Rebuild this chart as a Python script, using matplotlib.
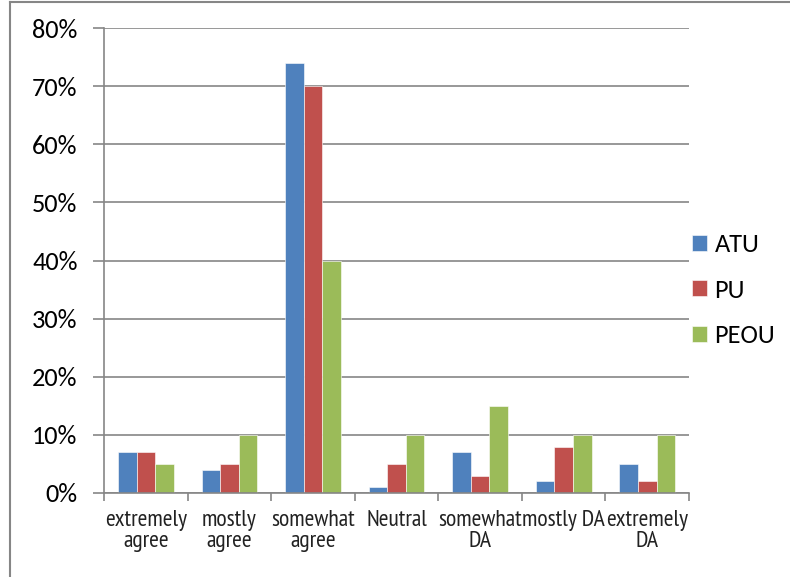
import numpy as np
import matplotlib.pyplot as plt
from matplotlib.lines import Line2D
from matplotlib.ticker import PercentFormatter

# data (percent)
categories = ['extremely\nagree', 'mostly\nagree', 'somewhat\nagree', 'Neutral',
              'somewhat\nDA', 'mostly DA', 'extremely\nDA']
atu = [7, 4, 74, 1, 7, 2, 5]
pu = [7, 5, 70, 5, 3, 8, 2]
peou = [5, 10, 40, 10, 15, 10, 10]
series = ['ATU', 'PU', 'PEOU']
colors = ['#4F81BD', '#C0504D', '#9BBB59']

grey = '#868686'
narrow = ['PT Sans Narrow', 'Archivo Narrow', 'DejaVu Sans']
calibri = ['Carlito', 'Lato', 'DejaVu Sans']

fig = plt.figure(figsize=(7.9, 5.77), dpi=100)
ax = fig.add_axes([104 / 790, 1 - 493 / 577, (689 - 104) / 790, (493 - 28) / 577])

x = np.arange(len(categories))
w = 1 / 4.5  # excel gap width 150%
for i, (vals, c, name) in enumerate(zip([atu, pu, peou], colors, series)):
    ax.bar(x + (i - 1) * w, vals, width=w, color=c, edgecolor='#ffffff',
           linewidth=0.4, label=name, zorder=3)

ax.set_xlim(-0.5, len(categories) - 0.5)
ax.set_ylim(0, 80)
ax.set_yticks(np.arange(0, 81, 10))
ax.yaxis.set_major_formatter(PercentFormatter(decimals=0))
ax.yaxis.grid(True, color=grey, linewidth=1.2, zorder=0)

# x ticks at category boundaries, labels at centres
ax.set_xticks(np.arange(-0.5, len(categories), 1))
ax.set_xticklabels([])
ax.set_xticks(x, minor=True)
ax.set_xticklabels(categories, minor=True, family=narrow,
                   fontsize=17, color='#222222', linespacing=1.0)
ax.tick_params(axis='x', which='major', length=6, color=grey, width=1.2)
ax.tick_params(axis='x', which='minor', length=0, pad=12)
ax.tick_params(axis='y', length=8, color=grey, width=1.2, pad=11, labelsize=19)
for lab in ax.get_yticklabels():
    lab.set_family(calibri)

for side in ['top', 'right']:
    ax.spines[side].set_visible(False)
for side in ['left', 'bottom']:
    ax.spines[side].set_color(grey)
    ax.spines[side].set_linewidth(1.2)
    ax.spines[side].set_zorder(4)

leg = fig.legend(loc='center left', bbox_to_anchor=(692 / 790, 1 - 290 / 577),
                 frameon=False, handlelength=0.55, handleheight=0.55,
                 handletextpad=0.3, labelspacing=0.85, borderpad=0, borderaxespad=0,
                 prop={'family': calibri, 'size': 19})

# chart area border (cropped at right and bottom)
fig.add_artist(Line2D([10 / 790, 10 / 790], [0, 1 - 2 / 577], color=grey, linewidth=1.5))
fig.add_artist(Line2D([10 / 790, 1], [1 - 2 / 577, 1 - 2 / 577], color=grey, linewidth=1.5))

fig.savefig('out.png', dpi=100)
